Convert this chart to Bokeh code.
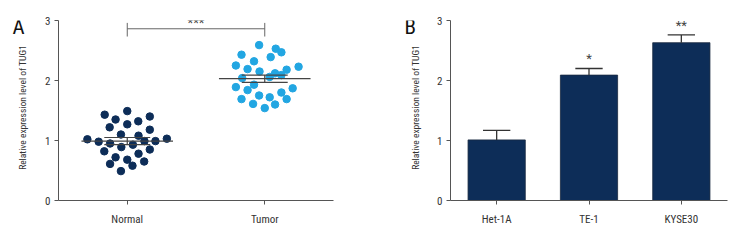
import math
from bokeh.plotting import figure
from bokeh.layouts import row
from bokeh.models import Range1d, FixedTicker
from bokeh.core.properties import value
from bokeh.embed import file_html
from bokeh.resources import INLINE

FONT = "Roboto Condensed, Liberation Sans Narrow, Roboto"

# ---------------- data ----------------
groups_a = ["Normal", "Tumor"]
normal_values = [1.43, 1.49, 1.40, 1.35, 1.32, 1.22, 1.27, 1.18, 1.10, 1.08,
                 1.02, 0.98, 0.95, 0.99, 0.99, 1.03, 0.89, 0.93, 0.82, 0.85,
                 0.78, 0.72, 0.68, 0.65, 0.61, 0.58, 0.49]
normal_offsets = [-0.164, 0.0, 0.164, -0.085, 0.08, -0.128, 0.0, 0.164, -0.046, 0.082,
                  -0.29, -0.208, -0.125, 0.125, 0.205, 0.288, -0.043, 0.041, -0.167, 0.164,
                  0.082, -0.085, 0.0, 0.123, -0.125, 0.038, -0.046]
tumor_values = [2.59, 2.53, 2.47, 2.43, 2.39, 2.32, 2.25, 2.23, 2.19, 2.18,
                2.15, 2.12, 2.09, 2.06, 2.04, 1.93, 1.89, 1.87, 1.84, 1.80,
                1.75, 1.72, 1.69, 1.69, 1.61, 1.60, 1.54]
tumor_offsets = [-0.041, 0.08, 0.121, -0.169, 0.043, -0.078, -0.21, 0.246, -0.125, 0.159,
                 -0.038, 0.075, 0.121, 0.036, -0.164, -0.078, -0.21, 0.203, -0.125, 0.121,
                 -0.041, 0.036, -0.169, 0.159, -0.085, 0.075, 0.0]
means_a = [0.99, 2.03]
sems_a = [0.06, 0.06]
sig_a = "***"

cells_b = ["Het-1A", "TE-1", "KYSE30"]
bar_values = [1.01, 2.09, 2.63]
bar_errors = [0.16, 0.11, 0.13]
stars_b = ["", "*", "**"]

y_ticks = [0, 1, 2, 3]
y_label = "Relative expression level of TUG1"
panel_letters = ["A", "B"]

NAVY = "#0d2d58"
LIGHT = "#22a6e2"
AXIS = "#555555"
TEXT = "#333333"
H = 240


def side(width, letter, letter_x, label_x):
    """Narrow strip holding the panel letter and the rotated y-axis title."""
    s = figure(width=width, height=H, output_backend="svg", toolbar_location=None,
               title=None, x_axis_type=None, y_axis_type=None,
               x_range=Range1d(0, width), y_range=Range1d(0, H),
               min_border=0, min_border_left=0, min_border_right=0,
               min_border_top=0, min_border_bottom=0)
    s.outline_line_color = None
    s.xgrid.visible = False
    s.ygrid.visible = False
    s.text(x=[letter_x], y=[H - 9], text=[letter], text_font=value(FONT), text_font_size="21px",
           text_color="#111111", text_baseline="middle", text_align="left")
    s.text(x=[label_x], y=[H - 116], text=[y_label], angle=math.pi / 2, text_font=value(FONT),
           text_font_size="9.5px", text_color=TEXT, text_baseline="middle", text_align="center")
    return s


def style(p, labels):
    p.outline_line_color = None
    p.xgrid.visible = False
    p.ygrid.visible = False
    p.y_range = Range1d(0, 3)
    p.yaxis.ticker = FixedTicker(ticks=y_ticks)
    p.xaxis.ticker = FixedTicker(ticks=list(range(1, len(labels) + 1)))
    p.xaxis.major_label_overrides = {i + 1: s for i, s in enumerate(labels)}
    for ax in (p.xaxis, p.yaxis):
        ax.axis_line_color = AXIS
        ax.major_tick_line_color = AXIS
        ax.minor_tick_line_color = None
        ax.major_tick_in = 0
        ax.major_tick_out = 4
        ax.major_label_text_font = FONT
        ax.major_label_text_font_size = "11px"
        ax.major_label_text_color = TEXT
    p.yaxis.major_label_standoff = 4
    p.xaxis.major_label_standoff = 8


# ---------------- panel A ----------------
sa = side(30, panel_letters[0], 12, 22)
pa = figure(width=342, height=H, output_backend="svg", toolbar_location=None,
            min_border_left=28, min_border_right=39, min_border_top=20, min_border_bottom=40,
            x_range=Range1d(0.5, 2.5))
style(pa, groups_a)

nx = [1 + o for o in normal_offsets]
tx = [2 + o for o in tumor_offsets]
pa.scatter(nx, normal_values, size=7.5, fill_color=NAVY, line_color=NAVY)
pa.scatter(tx, tumor_values, size=7.5, fill_color=LIGHT, line_color=LIGHT)

for i, (m, s) in enumerate(zip(means_a, sems_a)):
    c = i + 1
    pa.segment(x0=[c - 0.333], x1=[c + 0.333], y0=[m], y1=[m], line_color="#444444", line_width=1.2)
    pa.segment(x0=[c - 0.167, c - 0.167, c], x1=[c + 0.167, c + 0.167, c],
               y0=[m + s, m - s, m - s], y1=[m + s, m - s, m + s],
               line_color="#444444", line_width=1.2)

# significance bracket
pa.segment(x0=[1, 1, 2], x1=[2, 1, 2], y0=[2.862, 2.96, 2.96], y1=[2.862, 2.733, 2.733],
           line_color="#666666", line_width=1)
pa.text(x=[1.5], y=[2.845], text=[sig_a], text_font=value(FONT), text_font_size="13px",
        text_color="#444444", text_align="center", text_baseline="bottom")

# ---------------- panel B ----------------
sb = side(50, panel_letters[1], 32, 43)
pb = figure(width=322, height=H, output_backend="svg", toolbar_location=None,
            min_border_left=28, min_border_right=17, min_border_top=20, min_border_bottom=40,
            x_range=Range1d(0.5, 3.5))
style(pb, cells_b)

bx = list(range(1, len(cells_b) + 1))
pb.vbar(x=bx, top=bar_values, width=0.62, fill_color=NAVY, line_color="#1a2a40", line_width=0.8)
tops = [v + e for v, e in zip(bar_values, bar_errors)]
pb.segment(x0=bx, x1=bx, y0=bar_values, y1=tops, line_color="#333333", line_width=1.3)
pb.segment(x0=[x - 0.148 for x in bx], x1=[x + 0.148 for x in bx], y0=tops, y1=tops,
           line_color="#333333", line_width=1.3)
pb.text(x=bx, y=[t + 0.04 for t in tops], text=stars_b, text_font=value(FONT),
        text_font_size="13px", text_color="#444444", text_align="center", text_baseline="bottom")

layout = row(sa, pa, sb, pb)
open("out.html", "w").write(file_html(layout, INLINE))
